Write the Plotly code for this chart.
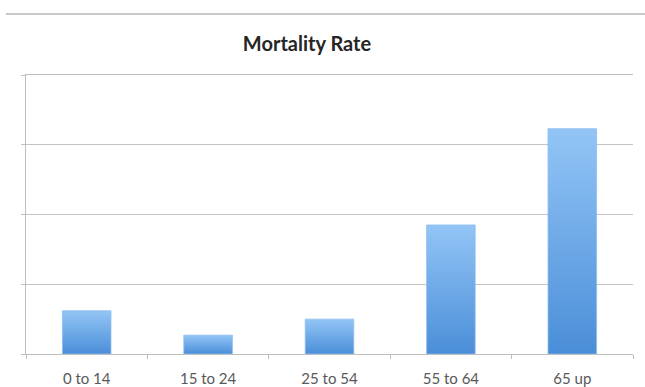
import plotly.graph_objects as go

# Mortality rate by age group (relative units, axis 0-4)
age_groups = ["0 to 14", "15 to 24", "25 to 54", "55 to 64", "65 up"]
mortality = [0.62, 0.27, 0.50, 1.85, 3.23]

BAR_W = 0.4
LIGHT = "#93c5f6"
DARK = "#4a8ed8"
FONT = "Lato, Open Sans, sans-serif"

fig = go.Figure()

# Each bar is a filled rectangle so it can carry a vertical gradient
for i, v in enumerate(mortality):
    x0, x1 = i - BAR_W / 2, i + BAR_W / 2
    fig.add_trace(go.Scatter(
        x=[x0, x0, x1, x1, x0],
        y=[0, v, v, 0, 0],
        mode="lines",
        line=dict(width=0.8, color="#8dbdf0"),
        fill="toself",
        fillgradient=dict(type="vertical",
                          colorscale=[[0, DARK], [1, LIGHT]]),
        name=age_groups[i],
        hoverinfo="skip",
        showlegend=False,
    ))

fig.update_layout(
    width=645, height=387,
    margin=dict(l=26, r=12, t=75, b=33),
    paper_bgcolor="white",
    plot_bgcolor="white",
    title=dict(text="<b>Mortality Rate</b>", x=307 / 645, xanchor="center",
               y=1 - 44 / 387, yanchor="middle",
               font=dict(family=FONT, size=20, color="#262626")),
    xaxis=dict(
        range=[-0.5, len(age_groups) - 0.5],
        tickvals=list(range(len(age_groups))),
        ticktext=age_groups,
        ticks="",
        showgrid=False,
        showline=True, linecolor="#bfbfbf", linewidth=1, mirror=True,
        zeroline=False,
        automargin=False,
        ticklabelstandoff=11,
        tickfont=dict(family=FONT, size=15, color="#595959"),
        minor=dict(tickvals=[k + 0.5 for k in range(-1, len(age_groups))],
                   ticks="outside", ticklen=4, tickcolor="#bfbfbf"),
    ),
    yaxis=dict(
        range=[0, 4], dtick=1,
        showticklabels=False,
        ticks="outside", ticklen=4, tickcolor="#bfbfbf",
        showgrid=True, gridcolor="#c4c4c4", gridwidth=1,
        showline=True, linecolor="#bfbfbf", linewidth=1,
        zeroline=False,
        automargin=False,
    ),
    shapes=[dict(type="line", xref="paper", yref="paper",
                 x0=-20 / 607, x1=1 + 12 / 607,
                 y0=1 + 61 / 279, y1=1 + 61 / 279,
                 line=dict(color="#c8c8c8", width=2))],
)

fig.write_html("out.html")
